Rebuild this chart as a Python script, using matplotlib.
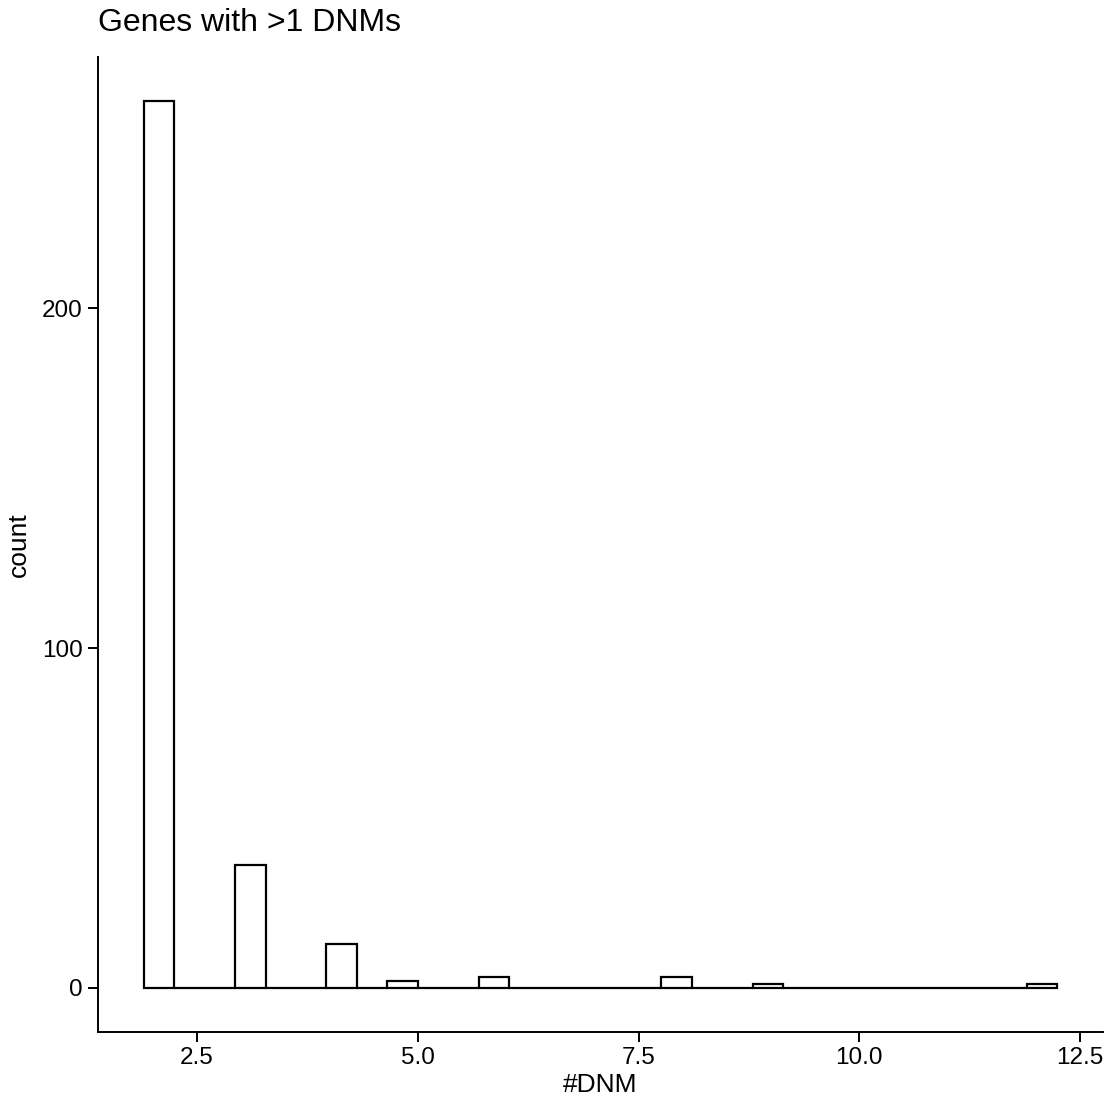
import numpy as np
import matplotlib
matplotlib.use("Agg")
import matplotlib.pyplot as plt

plt.rcParams["font.family"] = ["Liberation Sans", "DejaVu Sans"]

# number of DNMs per gene and how many genes have it
dnm_values = [2, 3, 4, 5, 6, 8, 9, 12]
gene_counts = [261, 36, 13, 2, 3, 3, 1, 1]

# ggplot-style binning: 30 bins, width = range/29, boundary = width/2, right-closed
n_bins = 30
lo, hi = min(dnm_values), max(dnm_values)
width = (hi - lo) / (n_bins - 1)
boundary = width / 2
origin = boundary + np.floor((lo - boundary) / width) * width
edges = origin + np.arange(n_bins + 1) * width

data = np.repeat(dnm_values, gene_counts)
idx = np.searchsorted(edges, data - 1e-9, side="left") - 1
counts = np.bincount(idx, minlength=n_bins)

fig = plt.figure(figsize=(11.15, 11.08), dpi=100)
ax = fig.add_axes([98 / 1115, 76 / 1108, 1005 / 1115, 975 / 1108])

ax.bar(edges[:-1], counts, width=width, align="edge",
       facecolor="white", edgecolor="black", linewidth=1.6)

span = edges[-1] - edges[0]
ax.set_xlim(edges[0] - 0.05 * span, edges[-1] + 0.05 * span)
ymax = counts.max()
ax.set_ylim(-0.05 * ymax, ymax * 1.05)

ax.set_xticks([2.5, 5.0, 7.5, 10.0, 12.5])
ax.set_xticklabels(["2.5", "5.0", "7.5", "10.0", "12.5"])
ax.set_yticks([0, 100, 200])

for s in ["top", "right"]:
    ax.spines[s].set_visible(False)
for s in ["left", "bottom"]:
    ax.spines[s].set_linewidth(1.4)

ax.tick_params(axis="both", labelsize=17.5, length=7, width=1.4, colors="black", pad=4)
ax.set_xlabel("#DNM", fontsize=19, labelpad=3)
ax.set_ylabel("count", fontsize=19, labelpad=8)
ax.set_title("Genes with >1 DNMs", fontsize=23, loc="left", pad=19)

fig.savefig("out.png", dpi=100)
